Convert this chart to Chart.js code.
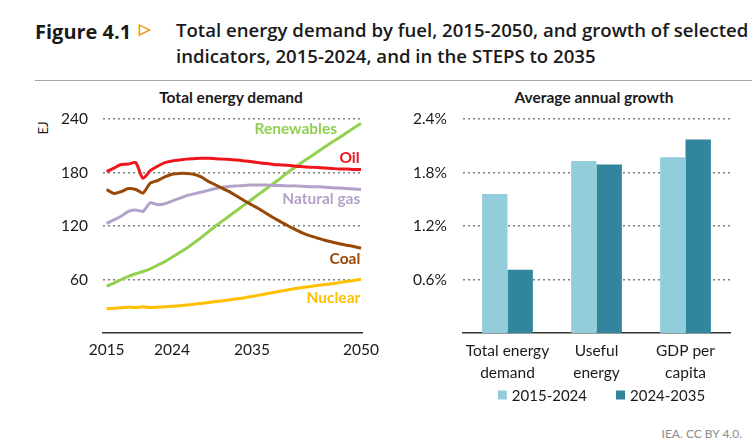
<!DOCTYPE html>
<html>
<head>
<meta charset="utf-8">
<script src="https://cdn.jsdelivr.net/npm/chart.js@4.4.1/dist/chart.umd.min.js"></script>
<style>
  html, body { margin: 0; padding: 0; background: #fff; }
  body { width: 754px; height: 448px; position: relative; overflow: hidden; font-family: Lato, sans-serif; color: #1a1a1a; }
  .abs { position: absolute; white-space: nowrap; }
  #figno { left: 35px; top: 18px; font: bold 20px "Open Sans", sans-serif; }
  #tri { left: 139px; top: 19px; font-size: 15px; font-weight: bold; color: #f39200; }
  #title { left: 176px; top: 17px; font: 600 18.6px "Open Sans", sans-serif; line-height: 26px; }
  #rule { left: 35px; top: 80px; width: 717px; height: 1px; background: #a6a6a6; }
  .sub { top: 88px; font-weight: bold; font-size: 15.5px; transform: translateX(-50%); }
  #unit { left: 36px; top: 120px; font-size: 13px; transform: rotate(-90deg); transform-origin: center; }
  #credit { right: 12px; top: 426px; font-size: 12px; color: #8c8c8c; }
  canvas { position: absolute; top: 0; }
</style>
</head>
<body>
<div class="abs" id="figno">Figure 4.1</div>
<div class="abs" id="tri">&#9655;</div>
<div class="abs" id="title">Total energy demand by fuel, 2015-2050, and growth of selected<br>indicators, 2015-2024, and in the STEPS to 2035</div>
<div class="abs" id="rule"></div>
<div class="abs sub" style="left:231px">Total energy demand</div>
<div class="abs sub" style="left:594px">Average annual growth</div>
<div class="abs" id="unit">EJ</div>
<div class="abs" id="credit">IEA. CC BY 4.0.</div>

<div style="position:absolute;left:0;top:0;width:387px;height:448px"><canvas id="demandChart"></canvas></div>
<div style="position:absolute;left:380px;top:0;width:374px;height:448px"><canvas id="growthChart"></canvas></div>

<script>
// left panel: total energy demand by fuel (EJ)
const years = [2015, 2016, 2017, 2018, 2019, 2020, 2021, 2022, 2023, 2024, 2025, 2026,
  2027, 2028, 2029, 2030, 2031, 2032, 2033, 2034, 2035, 2036, 2037, 2038,
  2039, 2040, 2041, 2042, 2043, 2044, 2045, 2046, 2047, 2048, 2049, 2050];
const yearTicks = [2015, 2024, 2035, 2050];
const demandTicks = [60, 120, 180, 240];

const oil = [181, 185, 189, 189.5, 191, 173.5, 182, 187, 191, 193, 194, 195,
  195.5, 196, 196, 195.5, 195, 194.5, 194, 193, 192, 191, 190, 189,
  188.5, 188, 187, 186.5, 186, 185.5, 185, 184.5, 184, 184, 183.5, 183.5];
const coal = [161, 156.5, 158.5, 162, 161, 157, 168, 171, 175, 178, 179, 179,
  178, 175, 170, 166, 162, 158, 153, 148, 143.5, 139, 134, 129,
  124.5, 120, 116, 112, 109, 106.5, 104, 102, 100, 98.5, 97, 95];
const gas = [123, 127, 131, 136.5, 138, 136.5, 146, 144, 145, 148, 151, 154,
  156, 158, 160, 162, 163.5, 164.5, 165, 165.5, 166, 166, 166, 165.5,
  165.5, 165, 165, 164.5, 164, 164, 163.5, 163, 162.5, 162, 161.5, 161];
const renewables = [52.5, 56, 60, 63.5, 66.5, 69, 72, 76, 80, 85, 90, 95,
  101, 107, 113.5, 120, 126, 132, 138, 144, 150, 156, 162, 168,
  174, 180.5, 186.5, 192, 197.5, 203, 208.5, 214, 219, 224.5, 230, 235];
const nuclear = [27.3, 27.8, 28.3, 29, 28.5, 29.5, 28.5, 29, 29.5, 30, 30.5, 31.3,
  32.2, 33.2, 34.2, 35.2, 36.2, 37.2, 38.3, 39.5, 41, 42.5, 44, 45.5,
  47, 48.5, 49.8, 51, 52.2, 53.3, 54.3, 55.2, 56.5, 57.8, 59, 60.3];

// right panel: average annual growth (%)
const indicators = [['Total energy', 'demand'], ['Useful', 'energy'], ['GDP per', 'capita']];
const periods = ['2015-2024', '2024-2035'];
const growth2015_2024 = [1.56, 1.93, 1.97];
const growth2024_2035 = [0.71, 1.89, 2.17];
const growthTicks = [0.6, 1.2, 1.8, 2.4];

Chart.defaults.font.family = 'Lato, sans-serif';
Chart.defaults.font.size = 15;
Chart.defaults.color = '#1a1a1a';
Chart.defaults.animation = false;

const gridDots = {
  color: '#7f7f7f',
  lineWidth: 1.5,
  drawTicks: false,
  borderDash: [2, 3],
};
const gridBorder = { display: false, dash: [2, 3] };

function fuel(label, values, color) {
  return {
    label: label,
    data: values.map((v, i) => ({ x: years[i], y: v })),
    borderColor: color,
    backgroundColor: color,
    borderWidth: 3,
    pointRadius: 0,
    tension: 0.25,
  };
}

// draws the series names beside the lines, placed in data units
const lineLabels = {
  id: 'lineLabels',
  afterDatasetsDraw(chart, args, opts) {
    const { ctx, scales } = chart;
    ctx.save();
    ctx.font = 'bold 15.5px Lato, sans-serif';
    ctx.textAlign = 'right';
    ctx.textBaseline = 'middle';
    opts.items.forEach(function (it) {
      const ds = chart.data.datasets[it.index];
      ctx.fillStyle = ds.borderColor;
      ctx.fillText(ds.label, scales.x.getPixelForValue(it.x), scales.y.getPixelForValue(it.y));
    });
    ctx.restore();
  }
};

// small square-swatch legend centred under the plot area
const swatchLegend = {
  id: 'swatchLegend',
  afterDraw(chart, args, opts) {
    const { ctx, chartArea } = chart;
    const items = chart.data.datasets;
    ctx.save();
    ctx.font = '15px Lato, sans-serif';
    ctx.textBaseline = 'middle';
    const widths = items.map(ds => opts.box + opts.boxGap + ctx.measureText(ds.label).width);
    const total = widths.reduce((a, b) => a + b, 0) + opts.itemGap * (items.length - 1);
    let x = (chartArea.left + chartArea.right) / 2 - total / 2 + opts.shift;
    const y = chartArea.bottom + opts.offset;
    items.forEach(function (ds, i) {
      ctx.fillStyle = ds.backgroundColor;
      ctx.fillRect(x, y - opts.box / 2, opts.box, opts.box);
      ctx.fillStyle = '#1a1a1a';
      ctx.fillText(ds.label, x + opts.box + opts.boxGap, y + 1);
      x += widths[i] + opts.itemGap;
    });
    ctx.restore();
  }
};

new Chart(document.getElementById('demandChart'), {
  type: 'line',
  data: {
    datasets: [
      fuel('Oil', oil, '#f0141c'),
      fuel('Coal', coal, '#984807'),
      fuel('Natural gas', gas, '#b3a2c7'),
      fuel('Renewables', renewables, '#92d050'),
      fuel('Nuclear', nuclear, '#ffc000'),
    ]
  },
  options: {
    responsive: true,
    maintainAspectRatio: false,
    layout: { padding: { top: 119, left: 43, right: 0, bottom: 75 } },
    plugins: {
      legend: { display: false },
      tooltip: { enabled: false },
      lineLabels: {
        items: [
          { index: 3, x: 2046.7, y: 229 },
          { index: 0, x: 2049.8, y: 196 },
          { index: 2, x: 2049.9, y: 150 },
          { index: 1, x: 2049.9, y: 83 },
          { index: 4, x: 2049.9, y: 39 },
        ]
      }
    },
    scales: {
      x: {
        type: 'linear',
        min: 2014.5,
        max: 2050.15,
        afterBuildTicks: function (scale) { scale.ticks = yearTicks.map(v => ({ value: v })); },
        afterFit: function (scale) { scale.height = 40; },
        grid: { display: false, drawTicks: false },
        border: { color: '#333', width: 1.5 },
        ticks: { padding: 8, autoSkip: false, maxRotation: 0, font: { size: 15.5 }, callback: v => String(v) }
      },
      y: {
        min: 0,
        max: 240,
        afterBuildTicks: function (scale) { scale.ticks = demandTicks.map(v => ({ value: v })); },
        afterFit: function (scale) { scale.width = 60; },
        grid: gridDots,
        border: gridBorder,
        ticks: { padding: 15, font: { size: 15.5 } }
      }
    }
  },
  plugins: [lineLabels]
});

new Chart(document.getElementById('growthChart'), {
  type: 'bar',
  data: {
    labels: indicators,
    datasets: [
      { label: periods[0], data: growth2015_2024, backgroundColor: '#92cddc' },
      { label: periods[1], data: growth2024_2035, backgroundColor: '#31859c' },
    ]
  },
  options: {
    responsive: true,
    maintainAspectRatio: false,
    layout: { padding: { top: 119, left: 23, right: 24, bottom: 59 } },
    datasets: { bar: { barPercentage: 1, categoryPercentage: 0.57 } },
    plugins: {
      tooltip: { enabled: false },
      legend: { display: false },
      swatchLegend: { box: 9, boxGap: 5, itemGap: 29, offset: 62, shift: 5 }
    },
    scales: {
      x: {
        afterFit: function (scale) { scale.height = 56; },
        grid: { display: false, drawTicks: false },
        border: { color: '#333', width: 1.5 },
        ticks: { padding: 7, maxRotation: 0, autoSkip: false, font: { size: 15.5, lineHeight: 1.42 } }
      },
      y: {
        min: 0,
        max: 2.4,
        afterBuildTicks: function (scale) { scale.ticks = growthTicks.map(v => ({ value: v })); },
        afterFit: function (scale) { scale.width = 60; },
        grid: gridDots,
        border: gridBorder,
        ticks: { padding: 16, font: { size: 15.5 }, callback: v => v.toFixed(1) + '%' }
      }
    }
  },
  plugins: [swatchLegend]
});
</script>
</body>
</html>
